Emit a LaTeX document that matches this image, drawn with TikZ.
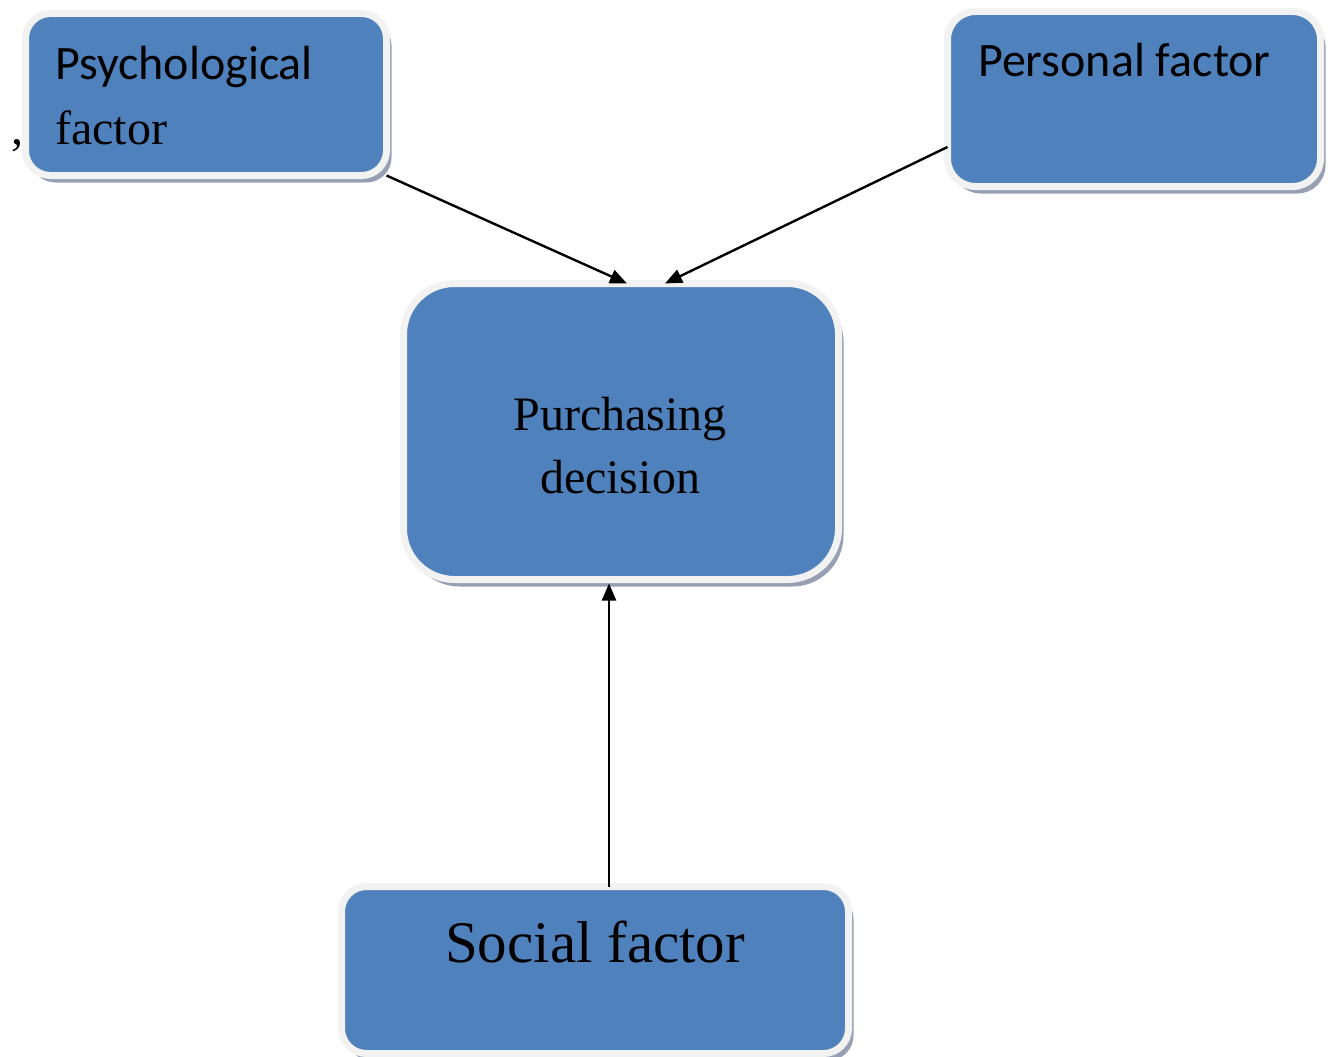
\documentclass[tikz,border=0pt]{standalone}
\usepackage{fontspec}
\setmainfont{Liberation Serif}
\newfontfamily\calibfont{Carlito}
\usetikzlibrary{arrows.meta,shadows}
\definecolor{boxblue}{RGB}{79,129,189}
\definecolor{boxrim}{RGB}{242,242,242}
\definecolor{rimshadow}{RGB}{150,160,178}

\begin{document}
\begin{tikzpicture}[x=1pt,y=-1pt,
  factorbox/.style={rectangle, fill=boxblue, draw=boxrim, line width=7pt,
    inner sep=0pt, outer sep=0pt,
    drop shadow={shadow xshift=5pt, shadow yshift=-7pt, fill=rimshadow, opacity=1}},
  sanstxt/.style={inner sep=0pt, font=\calibfont\fontsize{48}{58}\selectfont},
  seriftxt/.style={inner sep=0pt, font=\fontsize{48}{58}\selectfont},
  arr/.style={line width=2.4pt, -{Triangle[length=17pt,width=14pt]}}]
\useasboundingbox (0,0) rectangle (1330,1057);

% boxes
\node[factorbox, rounded corners=25pt, minimum width=361, minimum height=162] (psych) at (206,94.5) {};
\node[factorbox, rounded corners=28pt, minimum width=373, minimum height=175] (pers) at (1134,99) {};
\node[factorbox, rounded corners=51pt, minimum width=435, minimum height=296] (purch) at (621,431.5) {};
\node[factorbox, rounded corners=25pt, minimum width=507, minimum height=167] (social) at (595,970) {};

% texts
\node[sanstxt, anchor=base west] (psychA) at (55,80) {Psychological};
\node[seriftxt, anchor=base west] (psychB) at (55,144) {factor};
\node[seriftxt, anchor=base west] (comma) at (11,144) {,};
\node[sanstxt, anchor=base west] (perstxt) at (978,77) {Personal factor};
\node[seriftxt, anchor=base] (purchA) at (620,430) {Purchasing};
\node[seriftxt, anchor=base] (purchB) at (620,493) {decision};
\node[inner sep=0pt, anchor=base, font=\fontsize{59}{70}\selectfont] (soctxt) at (595,962) {Social factor};

% arrows
\draw[arr] (psych.south east) -- ([xshift=6pt]purch.north);
\draw[arr] ([yshift=-48pt]pers.west) -- ([xshift=44pt]purch.north);
\draw[arr] ([xshift=14pt]social.north) -- ([xshift=-12pt,yshift=-4pt]purch.south);
\end{tikzpicture}
\end{document}
